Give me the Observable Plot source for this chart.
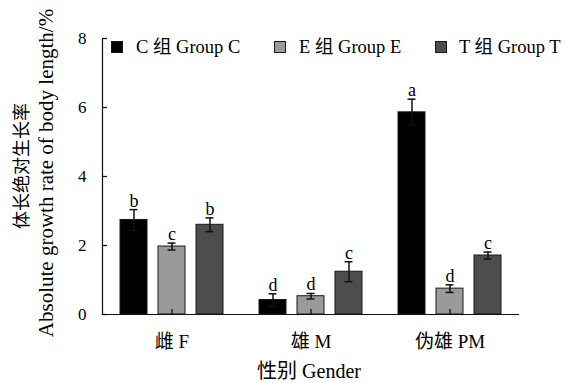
<!DOCTYPE html>
<html><head><meta charset="utf-8">
<script src="https://cdn.jsdelivr.net/npm/d3@7"></script>
<script src="https://cdn.jsdelivr.net/npm/@observablehq/plot@0.6"></script>
<style>
body{margin:0;background:#fff}
#wrap{position:relative;width:579px;height:383px;font-family:"Liberation Serif","Noto Sans CJK SC",serif;color:#000}
.abs{position:absolute;white-space:nowrap;line-height:1}
.sq{position:absolute;width:12px;height:12px;box-sizing:border-box;border:1px solid #1a1a1a}
.rot{transform:translate(-50%,-50%) rotate(-90deg)}
.ctr{transform:translate(-50%,-50%)}
</style></head><body><div id="wrap"></div>
<script>
const genders = ["雌 F", "雄 M", "伪雄 PM"];
const groups = ["C", "E", "T"];
const groupLabels = ["C 组 Group C", "E 组 Group E", "T 组 Group T"];
const colors = ["#000000", "#9a9a9a", "#4d4d4d"];
const meanC = [2.74, 0.42, 5.86];
const meanE = [1.97, 0.53, 0.75];
const meanT = [2.60, 1.24, 1.71];
const errC = [0.30, 0.18, 0.38];
const errE = [0.10, 0.08, 0.11];
const errT = [0.20, 0.29, 0.10];
const letterC = ["b", "d", "a"];
const letterE = ["c", "d", "d"];
const letterT = ["b", "c", "c"];
const yTicks = [0, 2, 4, 6, 8];
const xTitle = "性别 Gender";
const yTitleCN = "体长绝对生长率";
const yTitleEN = "Absolute growth rate of body length/%";

const means = [meanC, meanE, meanT];
const errs = [errC, errE, errT];
const letters = [letterC, letterE, letterT];
const data = [];
genders.forEach((g, i) => groups.forEach((k, j) => {
  data.push({gender: g, group: k, mean: means[j][i], lo: means[j][i] - errs[j][i], hi: means[j][i] + errs[j][i], letter: letters[j][i]});
}));

const font = '"Liberation Serif","Noto Sans CJK SC",serif';
const chart = Plot.plot({
  width: 579, height: 383,
  marginLeft: 102, marginRight: 60, marginTop: 38, marginBottom: 69,
  style: {fontFamily: font, fontSize: "17px", color: "#000", background: "#fff"},
  fx: {domain: genders, padding: 0, label: null, axis: null},
  x: {domain: groups, paddingInner: 0.29, paddingOuter: 0.47, axis: null},
  y: {domain: [0, 8], label: null, axis: null},
  color: {domain: groups, range: colors},
  marks: [
    Plot.barY(data, {fx: "gender", x: "group", y: "mean", fill: "group", stroke: "#1a1a1a", strokeWidth: 1}),
    Plot.ruleX(data, {fx: "gender", x: "group", y1: "lo", y2: "hi", stroke: "#111", strokeWidth: 1.5}),
    Plot.tickY(data, {fx: "gender", x: "group", y: "hi", inset: 9.5, stroke: "#111", strokeWidth: 1.5}),
    Plot.tickY(data, {fx: "gender", x: "group", y: "lo", inset: 9.5, stroke: "#111", strokeWidth: 1.5}),
    Plot.text(data, {fx: "gender", x: "group", y: "hi", text: "letter", dy: -3, lineAnchor: "bottom", fontSize: 18}),
    Plot.ruleY([0], {stroke: "#111", strokeWidth: 1.2}),
    Plot.frame({anchor: "left", facetAnchor: "left", stroke: "#111", strokeWidth: 1.2}),
    Plot.tickY(yTicks, {y: d => d, facetAnchor: "left", insetRight: 134, stroke: "#111", strokeWidth: 1.3}),
    Plot.axisY({anchor: "left", ticks: yTicks, tickSize: 0, tickPadding: 16, fontSize: 17, label: null}),
    Plot.axisFx({anchor: "bottom", tickSize: -5, tickPadding: 25, fontSize: 19, label: null, stroke: "#111", strokeWidth: 1.3})
  ]
});
const wrap = document.getElementById("wrap");
wrap.appendChild(chart);

function add(cls, text, css) {
  const d = document.createElement("div");
  d.className = cls;
  if (text) d.textContent = text;
  Object.assign(d.style, css);
  wrap.appendChild(d);
  return d;
}
const sqX = [111, 274, 435];
const txX = [136, 299, 459];
groupLabels.forEach((t, i) => {
  add("sq", "", {left: sqX[i] + "px", top: "41px", background: colors[i]});
  add("abs", t, {left: txX[i] + "px", top: "38px", fontSize: "18.5px"});
});
add("abs ctr", xTitle, {left: "309px", top: "371px", fontSize: "20px"});
add("abs rot", yTitleCN, {left: "22px", top: "166px", fontSize: "18px"});
add("abs rot", yTitleEN, {left: "46px", top: "173px", fontSize: "21px"});
</script></body></html>
